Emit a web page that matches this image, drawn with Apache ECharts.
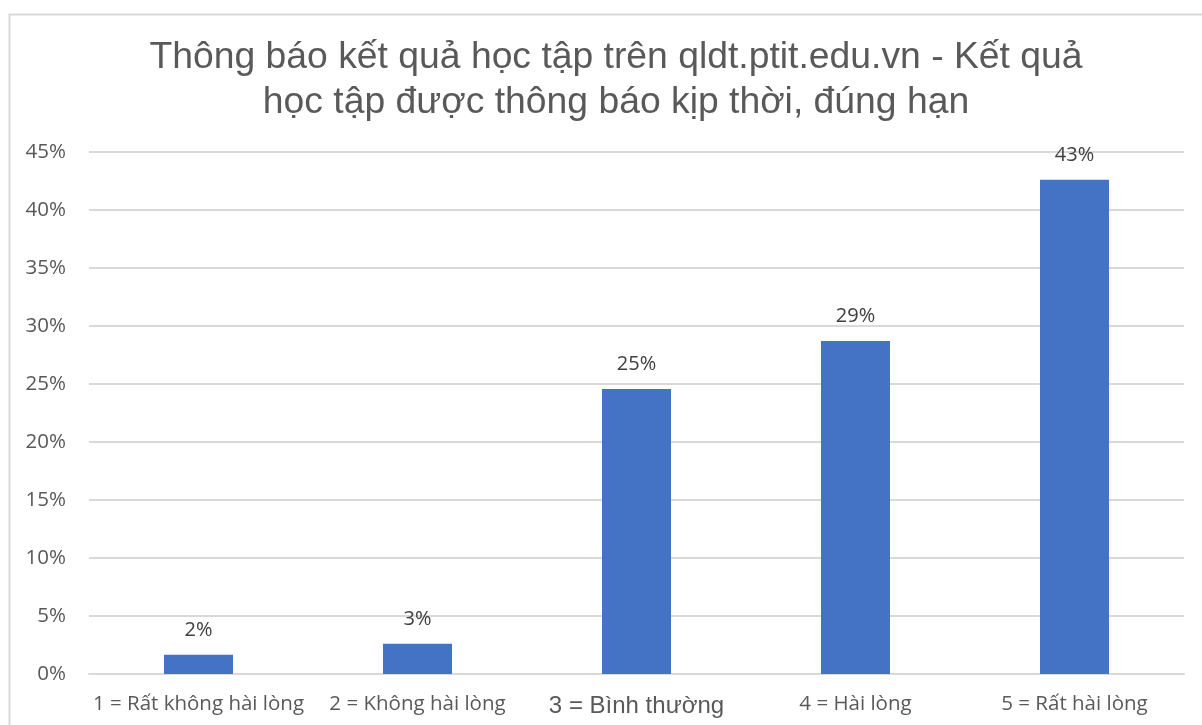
<!DOCTYPE html>
<html><head><meta charset="utf-8">
<script src="https://cdn.jsdelivr.net/npm/echarts@6/dist/echarts.min.js"></script>
<style>html,body{margin:0;padding:0;background:#fff}#c{width:1202px;height:725px}</style>
</head><body><div id="c"></div>
<script>
const titleText = 'Thông báo kết quả học tập trên qldt.ptit.edu.vn - Kết quả\nhọc tập được thông báo kịp thời, đúng hạn';
const categories = ['1 = Rất không hài lòng', '2 = Không hài lòng', '3 = Bình thường', '4 = Hài lòng', '5 = Rất hài lòng'];
const values = [0.0165, 0.026, 0.2457, 0.287, 0.426];
const yTicks = [0, 0.05, 0.10, 0.15, 0.20, 0.25, 0.30, 0.35, 0.40, 0.45];

const chart = echarts.init(document.getElementById('c'));
chart.setOption({
  animation: false,
  backgroundColor: '#fff',
  graphic: [{
    type: 'rect', left: 7, top: 12, shape: { width: 1400, height: 900 },
    style: { fill: 'none', stroke: '#d9d9d9', lineWidth: 2 }, silent: true, z: -1
  }],
  title: {
    text: titleText, left: 611, textAlign: 'center', top: 30,
    textStyle: { fontFamily: 'Liberation Sans, Arial, sans-serif', fontSize: 37.3, fontWeight: 'normal', color: '#595959', lineHeight: 45 }
  },
  grid: { left: 89, right: 18, top: 152, bottom: 51 },
  xAxis: {
    type: 'category', data: categories,
    axisLine: { lineStyle: { color: '#d9d9d9', width: 2 } },
    axisTick: { show: false },
    axisLabel: {
      interval: 0, margin: 20, color: '#595959',
      fontFamily: 'Open Sans, Noto Sans, sans-serif', fontSize: 20.5,
      formatter: function (v) { return v.indexOf('3 =') === 0 ? '{b|' + v + '}' : v; },
      rich: { b: { fontFamily: 'Liberation Sans, Arial, sans-serif', fontSize: 24, color: '#595959' } }
    }
  },
  yAxis: {
    type: 'value', min: yTicks[0], max: yTicks[yTicks.length - 1], interval: 0.05,
    axisLine: { show: false }, axisTick: { show: false },
    splitLine: { lineStyle: { color: '#d9d9d9', width: 2 } },
    axisLabel: {
      margin: 23, color: '#595959', fontFamily: 'Open Sans, Noto Sans, sans-serif', fontSize: 20.5,
      formatter: function (v) { return Math.round(v * 100) + '%'; }
    }
  },
  series: [{
    type: 'bar', data: values, barWidth: '31.5%',
    itemStyle: { color: '#4472c4' },
    label: {
      show: true, position: 'top', distance: 15, color: '#404040',
      fontFamily: 'Open Sans, Noto Sans, sans-serif', fontSize: 20,
      formatter: function (p) { return Math.round(p.value * 100) + '%'; }
    }
  }]
});
</script></body></html>
